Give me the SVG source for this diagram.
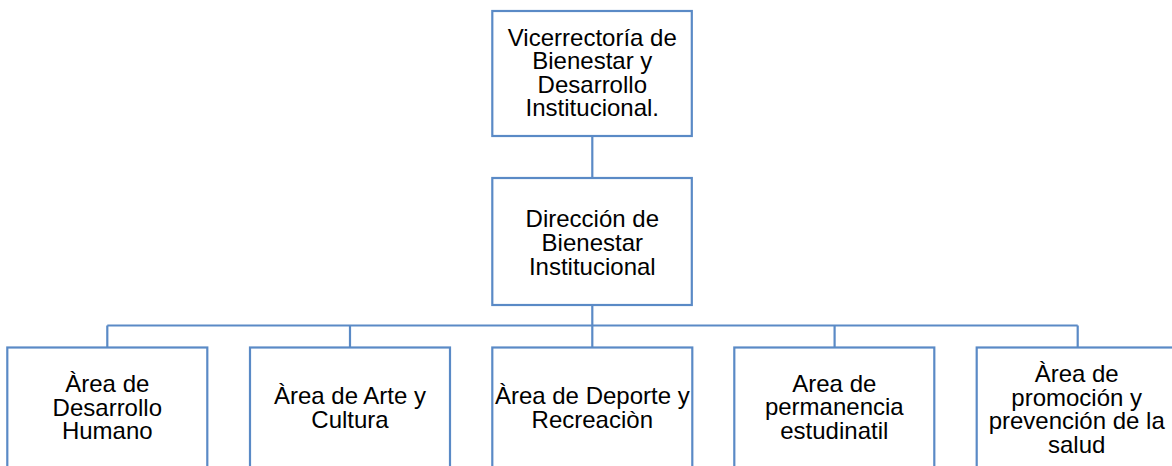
<svg xmlns="http://www.w3.org/2000/svg" width="1172" height="466" viewBox="0 0 1172 466">
<style>
.box{fill:#fff;stroke:#5A8AC6;stroke-width:2.2}
.conn{fill:none;stroke:#5A8AC6;stroke-width:2.2}
.t{font-family:"Liberation Sans",Arial,sans-serif;font-size:24px;fill:#000;text-anchor:middle}
</style>
<rect width="1172" height="466" fill="#fff"/>
<g id="connectors">
<path class="conn" d="M592.3 136V178"/>
<path class="conn" d="M592.3 305V325.5"/>
<path class="conn" d="M107.3 325.5H1077.7"/>
<path class="conn" d="M107.3 325.5V347.5M350 325.5V347.5M592.3 325.5V347.5M834.6 325.5V347.5M1077.7 325.5V347.5"/>
</g>
<g id="n1">
<rect class="box" x="492.3" y="11" width="199.5" height="125"/>
<text class="t"><tspan x="592.3" y="45.5">Vicerrectoría de</tspan><tspan x="592.3" y="69">Bienestar y</tspan><tspan x="592.3" y="92.5">Desarrollo</tspan><tspan x="592.3" y="116">Institucional.</tspan></text>
</g>
<g id="n2">
<rect class="box" x="492.3" y="178" width="199.5" height="127"/>
<text class="t"><tspan x="592.3" y="227">Dirección de</tspan><tspan x="592.3" y="250.5">Bienestar</tspan><tspan x="592.3" y="274.5">Institucional</tspan></text>
</g>
<g id="n3">
<rect class="box" x="7.3" y="347.5" width="200" height="200"/>
<text class="t"><tspan x="107.3" y="392">Àrea de</tspan><tspan x="107.3" y="415.5">Desarrollo</tspan><tspan x="107.3" y="439">Humano</tspan></text>
</g>
<g id="n4">
<rect class="box" x="250" y="347.5" width="200" height="200"/>
<text class="t"><tspan x="350" y="404">Àrea de Arte y</tspan><tspan x="350" y="427.5">Cultura</tspan></text>
</g>
<g id="n5">
<rect class="box" x="492.3" y="347.5" width="200" height="200"/>
<text class="t"><tspan x="592.3" y="404">Àrea de Deporte y</tspan><tspan x="592.3" y="427.5">Recreaciòn</tspan></text>
</g>
<g id="n6">
<rect class="box" x="734.3" y="347.5" width="200" height="200"/>
<text class="t"><tspan x="834.3" y="391.5">Area de</tspan><tspan x="834.3" y="415">permanencia</tspan><tspan x="834.3" y="438.5">estudinatil</tspan></text>
</g>
<g id="n7">
<rect class="box" x="976.7" y="347.5" width="200" height="200"/>
<text class="t"><tspan x="1076.7" y="382">Àrea de</tspan><tspan x="1076.7" y="405.5">promoción y</tspan><tspan x="1076.7" y="429">prevención de la</tspan><tspan x="1076.7" y="452.5">salud</tspan></text>
</g>
</svg>
